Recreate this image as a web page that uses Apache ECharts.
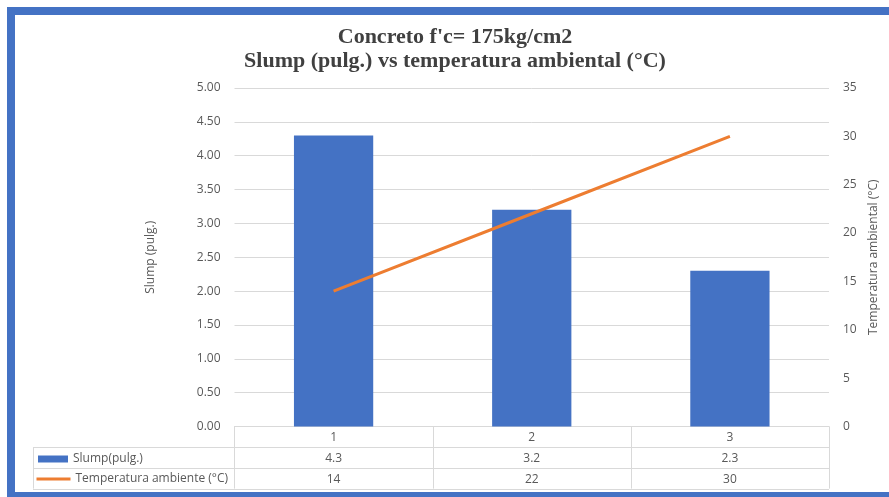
<!DOCTYPE html>
<html>
<head>
<meta charset="utf-8">
<script src="https://cdn.jsdelivr.net/npm/echarts@6/dist/echarts.min.js"></script>
<style>
html,body{margin:0;padding:0;background:#fff;}
#main{width:889px;height:497px;}
</style>
</head>
<body>
<div id="main"></div>
<script>
const categories = ['1', '2', '3'];
const slump = [4.3, 3.2, 2.3];
const temperatura = [14, 22, 30];
const slumpName = 'Slump(pulg.)';
const tempName = 'Temperatura ambiente (°C)';
const titleText = "Concreto f'c= 175kg/cm2\nSlump (pulg.) vs temperatura ambiental (°C)";

const FONT = 'Open Sans';
const GRAY = '#595959';
const LINE = '#d9d9d9';
const G = {left: 234.5, right: 60, top: 88, bottom: 70.5};

const chart = echarts.init(document.getElementById('main'), null, {renderer: 'canvas'});
const option = {
  backgroundColor: '#fff',
  animation: false,
  title: {
    text: titleText,
    left: 450, textAlign: 'center', top: 20,
    textStyle: {fontFamily: 'Liberation Serif', fontWeight: 'bold', fontSize: 22, color: '#404040', lineHeight: 24}
  },
  grid: G,
  legend: [
    {data: [slumpName], left: 38, top: 453, orient: 'vertical', padding: 0, icon: 'rect', itemWidth: 30, itemHeight: 7, itemGap: 3,
     textStyle: {fontFamily: FONT, fontSize: 12, color: GRAY}},
    {data: [tempName], left: 36.5, top: 473, orient: 'vertical', padding: 0, icon: 'rect', itemWidth: 34, itemHeight: 3, itemGap: 3,
     textStyle: {fontFamily: FONT, fontSize: 12, color: GRAY}}
  ],
  xAxis: {
    type: 'category', data: categories,
    axisLine: {lineStyle: {color: LINE}},
    axisTick: {show: false},
    axisLabel: {
      margin: 1, color: GRAY, fontFamily: FONT, fontSize: 12, lineHeight: 20.7,
      formatter: (v, i) => v + '\n' + slump[i] + '\n' + temperatura[i]
    }
  },
  yAxis: [
    {type: 'value', min: 0, max: 5, interval: 0.5,
     name: 'Slump (pulg.)', nameLocation: 'middle', nameGap: 78,
     nameTextStyle: {fontFamily: FONT, fontSize: 12, color: GRAY},
     axisLabel: {margin: 14, color: GRAY, fontFamily: FONT, fontSize: 12, formatter: v => v.toFixed(2)},
     splitLine: {lineStyle: {color: LINE}}, axisLine: {show: false}, axisTick: {show: false}},
    {type: 'value', min: 0, max: 35, interval: 5, position: 'right',
     name: 'Temperatura ambiental (°C)', nameLocation: 'middle', nameGap: 38,
     nameTextStyle: {fontFamily: FONT, fontSize: 12, color: GRAY},
     axisLabel: {margin: 14, color: GRAY, fontFamily: FONT, fontSize: 12},
     splitLine: {show: false}, axisLine: {show: false}, axisTick: {show: false}}
  ],
  series: [
    {name: slumpName, type: 'bar', data: slump, barWidth: '40%', itemStyle: {color: '#4472C4'}},
    {name: tempName, type: 'line', yAxisIndex: 1, data: temperatura, showSymbol: false, symbol: 'none',
     lineStyle: {color: '#ED7D31', width: 3}, itemStyle: {color: '#ED7D31'}}
  ]
};
chart.setOption(option);

// table borders built from axis pixel positions
const x0 = chart.convertToPixel({xAxisIndex: 0}, categories[0]);
const x1 = chart.convertToPixel({xAxisIndex: 0}, categories[1]);
const band = x1 - x0;
const yBase = chart.convertToPixel({yAxisIndex: 0}, 0);
const rowH = 20.7;
const tableLeft = 33;
const colEdges = categories.map((c, i) => chart.convertToPixel({xAxisIndex: 0}, c) - band / 2);
colEdges.push(colEdges[colEdges.length - 1] + band);
const gfx = [];
const ln = (a, b, c, d) => ({type: 'line', shape: {x1: a, y1: b, x2: c, y2: d}, style: {stroke: LINE, lineWidth: 1}, silent: true});
const bottomY = yBase + rowH * 3;
for (let r = 1; r <= 3; r++) {
  gfx.push(ln(tableLeft, Math.round(yBase + rowH * r) + 0.5, colEdges[colEdges.length - 1], Math.round(yBase + rowH * r) + 0.5));
}
gfx.push(ln(tableLeft + 0.5, yBase + rowH, tableLeft + 0.5, bottomY));
colEdges.forEach(x => gfx.push(ln(Math.round(x) + 0.5, yBase, Math.round(x) + 0.5, bottomY)));
// outer frame
gfx.push({type: 'rect', shape: {x: 11, y: 11, width: 900, height: 485}, style: {fill: 'none', stroke: '#4472C4', lineWidth: 8}, silent: true, z: 100});
chart.setOption({graphic: gfx});
</script>
</body>
</html>
